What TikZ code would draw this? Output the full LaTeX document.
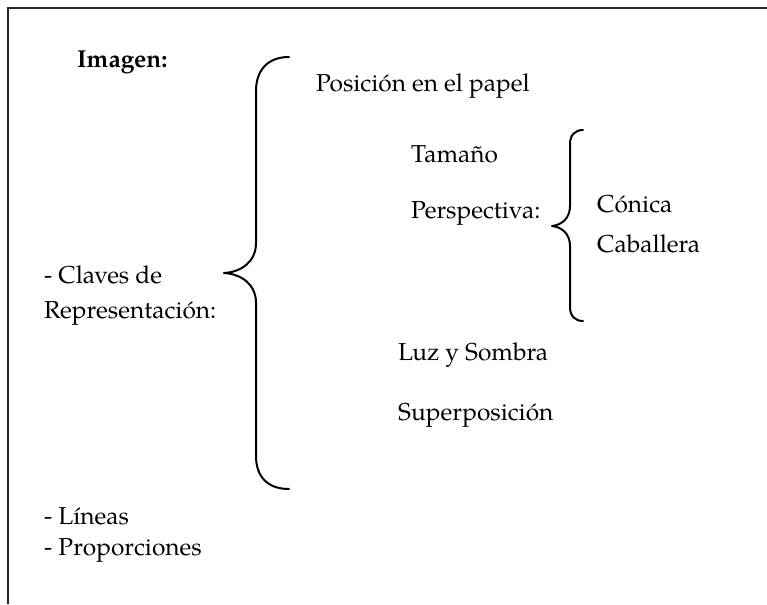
\documentclass[tikz,border=0pt]{standalone}
\usepackage{fontspec}
\setmainfont{TeX Gyre Pagella}
\begin{document}
\begin{tikzpicture}[x=1pt,y=-1pt,
  label/.style={anchor=base west,inner sep=0pt,font=\fontsize{24.5}{30}\selectfont},
  brace/.style={line width=2pt,line cap=round,line join=round},
  frame/.style={line width=1.4pt,draw=black!85}]
  \useasboundingbox (0,0) rectangle (767,604);
  % open frame: top and left edges only
  \draw[frame] (767,8) -- (8,8) -- (8,604);

  % texts
  \node[label,font=\fontsize{24.5}{30}\selectfont\bfseries] (img) at (77,68) {Imagen:};
  \node[label] (pos) at (316,92) {Posición en el papel};
  \node[label] (tam) at (411,163) {Tamaño};
  \node[label] (per) at (411,218) {Perspectiva:};
  \node[label] (con) at (597,212) {Cónica};
  \node[label] (cab) at (597,252) {Caballera};
  \node[label] (cla) at (44,283) {- Claves de};
  \node[label] (rep) at (44,318) {Representación:};
  \node[label] (luz) at (398,360) {Luz y Sombra};
  \node[label] (sup) at (398,420) {Superposición};
  \node[label] (lin) at (44,524) {- Líneas};
  \node[label] (pro) at (44,555) {- Proporciones};

  % large brace
  \draw[brace] (289,57) .. controls (267,57) and (256,71) .. (256,91)
    -- (256,243) .. controls (256,262) and (241,272) .. (224,273)
    .. controls (241,274) and (256,284) .. (256,303)
    -- (256,456) .. controls (256,476) and (267,489) .. (289,489);

  % small brace
  \draw[brace] (583,130) .. controls (575,130) and (570,135) .. (570,144)
    -- (570,206) .. controls (570,218) and (562,225) .. (552,226)
    .. controls (562,227) and (570,234) .. (570,246)
    -- (570,307) .. controls (570,316) and (575,321) .. (583,321);
\end{tikzpicture}
\end{document}
